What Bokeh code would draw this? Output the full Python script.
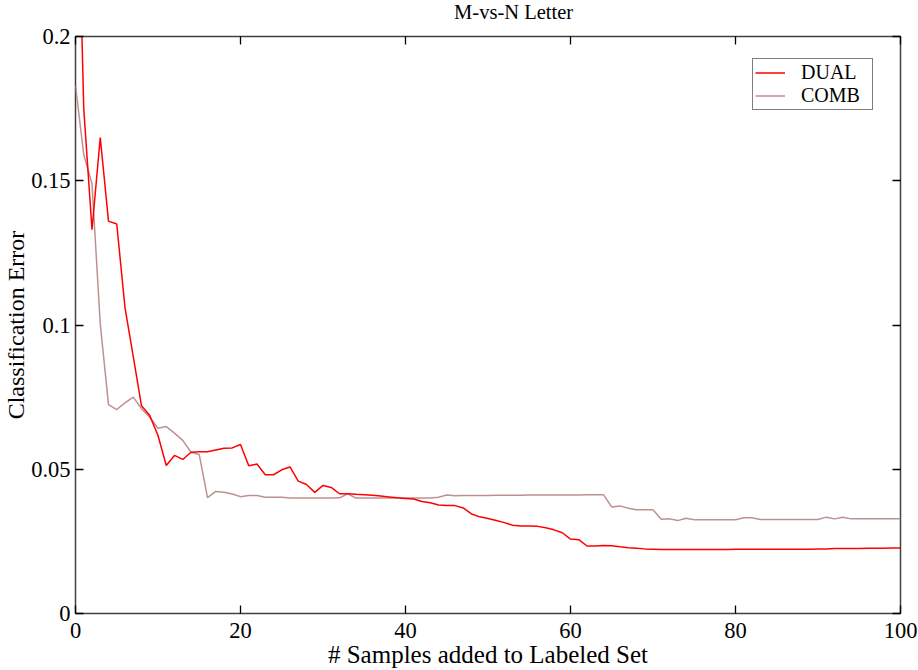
from bokeh.embed import file_html
from bokeh.resources import INLINE
from bokeh.layouts import column
from bokeh.plotting import figure
from bokeh.models import (LinearAxis, FixedTicker, CustomJSTickFormatter, Legend,
                          LegendItem, Title, Label, Range1d)

# number of samples added to the labeled set
samples = list(range(101))

# classification error of the DUAL learner
dual_err = [
    0.290, 0.175, 0.133, 0.165, 0.136, 0.135, 0.106, 0.089, 0.072, 0.0686,
    0.0617, 0.0513, 0.0548, 0.0534, 0.0559, 0.0561, 0.0561, 0.0567, 0.0573, 0.0574,
    0.0586, 0.0512, 0.0518, 0.0481, 0.0481, 0.0498, 0.0508, 0.0459, 0.0447, 0.0420,
    0.0444, 0.0437, 0.0415, 0.0415, 0.0413, 0.0412, 0.0410, 0.0407, 0.0404, 0.0401,
    0.0399, 0.0397, 0.0388, 0.0384, 0.0376, 0.0374, 0.0374, 0.0366, 0.0345, 0.0335,
    0.0329, 0.0322, 0.0315, 0.0306, 0.0303, 0.0303, 0.0302, 0.0297, 0.0290, 0.0280,
    0.0258, 0.0256, 0.0234, 0.0234, 0.0236, 0.0235, 0.0231, 0.0228, 0.0226, 0.0224,
    0.0223, 0.0222, 0.0222, 0.0222, 0.0222, 0.0222, 0.0222, 0.0222, 0.0222, 0.0222,
    0.0223, 0.0223, 0.0223, 0.0223, 0.0223, 0.0223, 0.0223, 0.0223, 0.0223, 0.0223,
    0.0224, 0.0224, 0.0225, 0.0225, 0.0225, 0.0225, 0.0226, 0.0226, 0.0226, 0.0227,
    0.0227,
]

# classification error of the COMB learner
comb_err = [
    0.183, 0.159, 0.149, 0.1004, 0.0724, 0.0707, 0.0730, 0.0750, 0.0710, 0.0680,
    0.0642, 0.0648, 0.0625, 0.0600, 0.0559, 0.0551, 0.0402, 0.0423, 0.0420, 0.0414,
    0.0405, 0.0409, 0.0409, 0.0403, 0.0403, 0.0403, 0.0400, 0.0400, 0.0400, 0.0400,
    0.0400, 0.0400, 0.0401, 0.0415, 0.0400, 0.0400, 0.0400, 0.0400, 0.0400, 0.0400,
    0.0400, 0.0400, 0.0400, 0.0400, 0.0403, 0.0411, 0.0408, 0.0409, 0.0409, 0.0409,
    0.0409, 0.0410, 0.0410, 0.0410, 0.0410, 0.0411, 0.0411, 0.0411, 0.0411, 0.0411,
    0.0411, 0.0411, 0.0412, 0.0412, 0.0412, 0.0369, 0.0373, 0.0365, 0.0360, 0.0360,
    0.0360, 0.0327, 0.0328, 0.0322, 0.0330, 0.0325, 0.0325, 0.0325, 0.0325, 0.0325,
    0.0325, 0.0332, 0.0332, 0.0326, 0.0326, 0.0326, 0.0326, 0.0326, 0.0326, 0.0326,
    0.0326, 0.0334, 0.0328, 0.0334, 0.0328, 0.0328, 0.0328, 0.0328, 0.0328, 0.0328,
    0.0328,
]

x_ticks = [0, 20, 40, 60, 80, 100]
y_ticks = [0, 0.05, 0.1, 0.15, 0.2]

FONT = "Liberation Serif"
FRAME = "#404040"
WIDTH, HEIGHT = 918, 670
HEADER_H = 23

# narrow strip carrying the chart title
header = figure(width=WIDTH, height=HEADER_H, output_backend="svg",
                toolbar_location=None, x_range=Range1d(0, WIDTH),
                y_range=Range1d(0, HEADER_H), min_border=0,
                background_fill_color="white", border_fill_color="white",
                outline_line_color=None)
header.axis.visible = False
header.grid.visible = False
header.add_layout(Label(x=487.5, y=HEADER_H / 2, text="M-vs-N Letter",
                        text_align="center", text_baseline="middle",
                        text_font=FONT, text_font_size="20.5px",
                        text_color="black"))

p = figure(width=WIDTH, height=HEIGHT - HEADER_H, output_backend="svg",
           toolbar_location=None, x_range=Range1d(0, 100), y_range=Range1d(0, 0.2),
           min_border_left=75, min_border_right=18, min_border_top=36 - HEADER_H,
           min_border_bottom=57, background_fill_color="white",
           border_fill_color="white")
p.grid.visible = False
p.outline_line_color = FRAME
p.outline_line_width = 1.5

blank = CustomJSTickFormatter(code="return '';")
plain = CustomJSTickFormatter(code="return tick.toString();")


def style_axis(ax, ticks, labelled):
    ax.ticker = FixedTicker(ticks=ticks)
    ax.formatter = plain if labelled else blank
    ax.axis_line_color = None
    ax.major_tick_line_color = "black"
    ax.major_tick_line_width = 1.3
    ax.major_tick_in = 8
    ax.major_tick_out = 0
    ax.minor_tick_line_color = None
    ax.major_label_text_font = FONT
    ax.major_label_text_font_size = "22.5px" if labelled else "1px"
    ax.major_label_text_color = "black"
    ax.major_label_standoff = 5 if labelled else 0
    if not labelled:
        ax.axis_label_standoff = 0


style_axis(p.xaxis[0], x_ticks, True)
style_axis(p.yaxis[0], y_ticks, True)
p.xaxis[0].major_label_standoff = 9
p.xaxis[0].axis_label = "# Samples added to Labeled Set"
p.xaxis[0].axis_label_text_font = FONT
p.xaxis[0].axis_label_text_font_size = "25px"
p.xaxis[0].axis_label_text_font_style = "normal"
p.xaxis[0].axis_label_text_color = "black"
p.xaxis[0].axis_label_text_line_height = 1.0
p.xaxis[0].axis_label_standoff = 0

top_axis = LinearAxis()
right_axis = LinearAxis()
style_axis(top_axis, x_ticks, False)
style_axis(right_axis, y_ticks, False)
p.add_layout(top_axis, "above")
p.add_layout(right_axis, "right")

# vertical title for the error axis, outside the tick labels
p.add_layout(Title(text="Classification Error", align="center", text_font=FONT,
                   text_font_size="24px", text_font_style="normal",
                   text_color="black", standoff=0), "left")

comb_line = p.line(samples, comb_err, line_color="#BE9191", line_width=1.5)
dual_line = p.line(samples, dual_err, line_color="#FF0000", line_width=1.5)

legend = Legend(items=[LegendItem(label="DUAL", renderers=[dual_line]),
                       LegendItem(label="COMB", renderers=[comb_line])],
                location=(677, 503))
legend.label_text_font = FONT
legend.label_text_font_size = "20px"
legend.label_text_color = "black"
legend.border_line_color = "black"
legend.border_line_width = 1
legend.background_fill_color = "white"
legend.background_fill_alpha = 1
legend.padding = 2
legend.spacing = 0
legend.margin = 0
legend.glyph_width = 30
legend.glyph_height = 21
legend.label_height = 21
legend.label_width = 69
legend.label_standoff = 16
p.add_layout(legend)

page = column(header, p, spacing=0)
open("out.html", "w").write(file_html(page, INLINE))
